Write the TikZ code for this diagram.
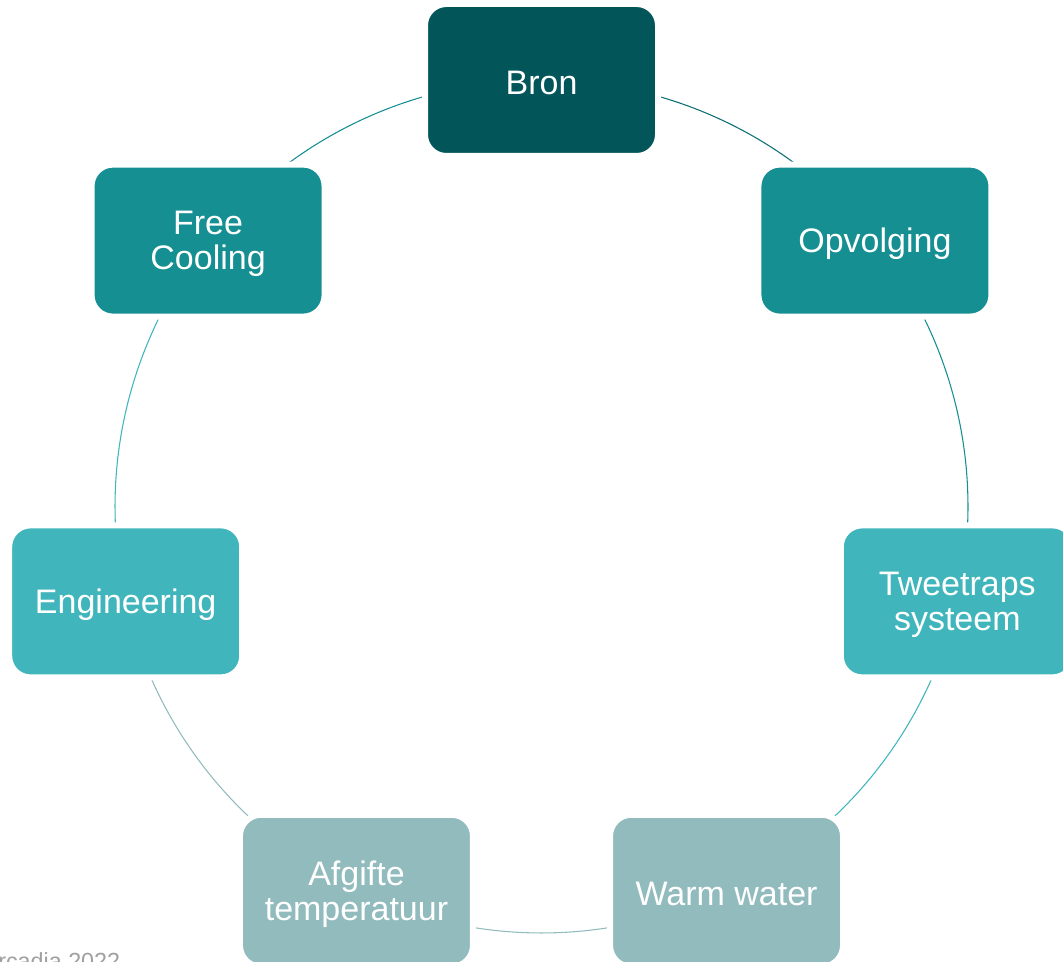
\documentclass[tikz,border=0pt]{standalone}
\usepackage{fontspec}
\setmainfont{Liberation Sans}
\definecolor{cDark}{HTML}{02565A}
\definecolor{cMid}{HTML}{168F93}
\definecolor{cLight}{HTML}{40B5BC}
\definecolor{cGrey}{HTML}{91BBBD}
\definecolor{cArcA}{HTML}{0B6F73}
\definecolor{cCredit}{HTML}{A0A0A0}
\begin{document}
\begin{tikzpicture}[x=0.75pt,y=-0.75pt,
  stage/.style={rectangle, rounded corners=16pt, draw=white, line width=4.5pt,
    minimum width=174.75pt, minimum height=114pt, inner sep=0pt},
  txt/.style={text=white, align=center, inner sep=0pt, yshift=-2.5pt,
    font=\fontsize{25.5}{26.8}\selectfont},
  ring/.style={line width=0.8pt}]
\useasboundingbox (0,0) rectangle (1063,962);
\clip (0,0) rectangle (1063,962);
\def\R{319.875pt}
\coordinate (c) at (541.5,506.5);
% ring segments
\draw[ring,cArcA] ([shift={(90:\R)}]c) arc[start angle=90, end angle=38.571, radius=\R];
\draw[ring,cMid] ([shift={(38.571:\R)}]c) arc[start angle=38.571, end angle=-12.857, radius=\R];
\draw[ring,cLight] ([shift={(-12.857:\R)}]c) arc[start angle=-12.857, end angle=-64.286, radius=\R];
\draw[ring,cGrey] ([shift={(-64.286:\R)}]c) arc[start angle=-64.286, end angle=-115.714, radius=\R];
\draw[ring,cGrey] ([shift={(-115.714:\R)}]c) arc[start angle=-115.714, end angle=-167.143, radius=\R];
\draw[ring,cLight] ([shift={(-167.143:\R)}]c) arc[start angle=-167.143, end angle=-218.571, radius=\R];
\draw[ring,cMid] ([shift={(141.429:\R)}]c) arc[start angle=141.429, end angle=90, radius=\R];
% stages
\node[stage, fill=cDark, label={[txt]center:Bron}] (bron) at ([shift={(90:\R)}]c) {};
\node[stage, fill=cMid, label={[txt]center:Opvolging}] (opv) at ([shift={(38.571:\R)}]c) {};
\node[stage, fill=cLight, label={[txt]center:Tweetraps\\systeem}] (twee) at ([shift={(-12.857:\R)}]c) {};
\node[stage, fill=cGrey, label={[txt]center:Warm water}] (warm) at ([shift={(-64.286:\R)}]c) {};
\node[stage, fill=cGrey, label={[txt]center:Afgifte\\temperatuur}] (afg) at ([shift={(-115.714:\R)}]c) {};
\node[stage, fill=cLight, label={[txt]center:Engineering}] (eng) at ([shift={(-167.143:\R)}]c) {};
\node[stage, fill=cMid, label={[txt]center:Free\\Cooling}] (free) at ([shift={(141.429:\R)}]c) {};
% credit line (cut off at the bottom, as in the reference)
\node[anchor=base west, inner sep=0pt, text=cCredit, font=\fontsize{17.5}{20}\selectfont] (credit) at (-2,969) {rcadia 2022};
\end{tikzpicture}
\end{document}
